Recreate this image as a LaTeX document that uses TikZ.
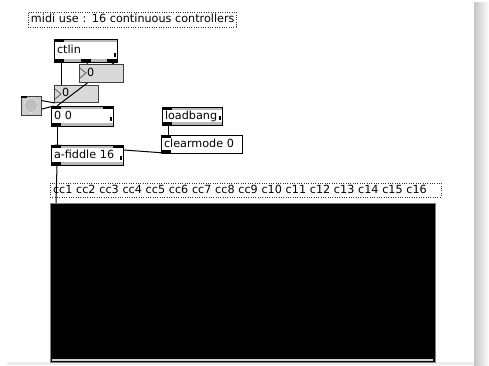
\documentclass[tikz,border=0pt]{standalone}
\usepackage{fontspec}
\setmainfont{DejaVu Sans}
\usetikzlibrary{calc,backgrounds}
\newcommand\patchfont{\fontsize{8.4pt}{10pt}\selectfont}
\tikzset{
  every picture/.append style={x=0.75pt, y=-0.75pt},
  % box size in screen pixels
  sz/.code 2 args={%
    \pgfmathsetlengthmacro\boxtw{#1*0.75pt-4.5pt}%
    \pgfmathsetlengthmacro\boxht{#2*0.75pt}%
    \edef\next{\noexpand\tikzset{text width=\boxtw, minimum height=\boxht}}\next},
  base/.style={anchor=north west, outer sep=0pt, inner xsep=2.25pt, inner ysep=0pt,
               align=left, font=\patchfont, text height=6.4pt, text depth=1.6pt, line width=0.75pt},
  obj/.style={base, draw=black, fill=white,
              path picture={\fill[gray!55] (path picture bounding box.north west)
                  rectangle ([yshift=-2.25pt]path picture bounding box.north east);
                \fill[gray!55] (path picture bounding box.south west)
                  rectangle ([yshift=2.25pt]path picture bounding box.south east);}},
  msg/.style={base, draw=black, fill=white},
  num/.style={base, draw=black!75, fill=gray!30},
  cmt/.style={base, draw=black!80, densely dotted, fill=white},
  bangbox/.style={base, draw=black!75, fill=gray!40, minimum width=15pt, minimum height=14.25pt},
  cord/.style={draw=black, line width=0.75pt},
}
\begin{document}
\begin{tikzpicture}
\useasboundingbox (0,0) rectangle (489,365);

% window edge
\shade[left color=gray!45, right color=white] (474,2) rectangle (489,365);
\fill[gray!15] (7,362) rectangle (474,365);

\node[cmt, sz={208}{15}] (title) at (28,12) {\mbox{midi use : 16 continuous controllers}};

% controller input
\node[obj, sz={63}{23}] (ctlin) at (54,39) {ctlin};
\node[num, sz={44}{17}] (nb2) at (54,85) {\hspace*{3.75pt}0};
\coordinate (listin) at (57,106);
\draw[cord] ([shift={(-2,0)}]ctlin.south east) -- (listin);
\node[num, sz={44}{18}] (nb1) at (79,64) {\hspace*{3.75pt}0};
\foreach \nb in {nb1,nb2}
  \draw[black!65, line width=0.6pt] ([shift={(1,4)}]\nb.north west) -- ++(6,5) -- ++(-6,5);
\draw[cord] ([shift={(7,0)}]ctlin.south west) -- ([shift={(7,0)}]nb2.north west);
\draw[cord] ([shift={(2,0)}]ctlin.south) -- ([shift={(8,0)}]nb1.north west);

\node[obj, sz={62}{20}] (zero) at (51,106) {0 0};

% bang between the number box and the list
\node[bangbox] (bang) at (21,96) {};
\node[circle, fill=gray!50, draw=gray!25, line width=0.6pt, minimum size=10.5pt, inner sep=0pt]
  (bangdot) at (bang.center) {};
\fill (bang.north west) rectangle ++(6,2);
\begin{scope}[on background layer]
  \draw[cord] ([shift={(1,1)}]nb2.south west) -- ([shift={(1,1)}]bang.north west);
  \draw[cord] ([shift={(1,-1)}]bang.south west) -- ([shift={(3,0)}]zero.north west);
\end{scope}

% init
\node[obj, sz={60}{18}] (loadbang) at (162,107) {\mbox{loadbang}};
\node[msg, sz={81}{18}] (clear) at (161,135) {\mbox{clearmode 0}};
\draw[cord] ([shift={(6,0)}]loadbang.south west) -- ([shift={(7,0)}]clear.north west);
\coordinate (fiddlein) at (55,145);
\draw[cord] ([shift={(4,0)}]clear.south west) -- (fiddlein);

\node[obj, sz={72}{20}] (fiddle) at (51,145) {\mbox{a-fiddle 16}};
\draw[cord] ([shift={(6,0)}]zero.south west) -- ([shift={(6,0)}]fiddle.north west);

% inlets and outlets
\foreach \obj in {ctlin,zero,loadbang,clear,fiddle} {
  \fill (\obj.north west) rectangle ++(10,3);
  \fill (\obj.south west) rectangle ++(10,-3);
}
\fill ([shift={(-5,0)}]ctlin.south) rectangle ++(10,-3);
\fill (ctlin.south east) rectangle ++(-10,-3);
\fill (zero.north east) rectangle ++(-10,3);
\fill (fiddle.north east) rectangle ++(-10,3);
\foreach \obj in {ctlin,zero,loadbang,fiddle}
  \fill ([shift={(-3,-5)}]\obj.south east) rectangle ++(1.5,-4);

% display
\node[cmt, sz={391}{14}] (names) at (50,183)
  {\mbox{cc1 cc2 cc3 cc4 cc5 cc6 cc7 cc8 cc9 c10 c11 c12 c13 c14 c15 c16}};
\node[base, draw=black!50, fill=black, minimum width=288.75pt, minimum height=119.25pt] (slider) at (50,203) {};
\fill[gray!35] ([shift={(2,-1)}]slider.south west) rectangle ([shift={(-2,-3)}]slider.south east);
\draw[cord] ([shift={(6,0)}]fiddle.south west) -- ([shift={(6,0)}]slider.north west);
\end{tikzpicture}
\end{document}
